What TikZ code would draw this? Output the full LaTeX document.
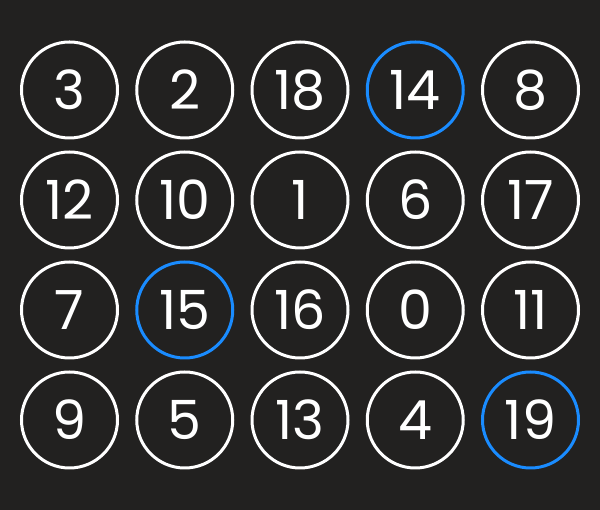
\documentclass[tikz,border=0pt]{standalone}
\usepackage{fontspec}
\setmainfont{Poppins}
\definecolor{board}{HTML}{222120}
\definecolor{pick}{HTML}{1A8CFF}
\tikzset{
	ball/.style={circle, draw=white, line width=3pt, minimum size=96pt, inner sep=0pt,
		text=white, font=\fontsize{54}{54}\selectfont}
}

\begin{document}
\begin{tikzpicture}[x=1pt, y=1pt]
		\def\dx{115.25};
		\def\dy{110};

		\fill[board] (0,0) rectangle (600,510);
		\useasboundingbox (0,0) rectangle (600,510);

		% grid of numbers, column / row from the top left
		\foreach \n/\c/\r in {3/0/0, 2/1/0, 18/2/0, 8/4/0,
			12/0/1, 10/1/1, 1/2/1, 6/3/1, 17/4/1,
			7/0/2, 16/2/2, 0/3/2, 11/4/2,
			9/0/3, 5/1/3, 13/2/3, 4/3/3}
			\node[ball] (n\n) at (69.5+\c*\dx, 420-\r*\dy) {\n};

		\begin{scope}[ball/.append style={draw=pick}]
			\foreach \n/\c/\r in {14/3/0, 15/1/2, 19/4/3}
				\node[ball] (n\n) at (69.5+\c*\dx, 420-\r*\dy) {\n};
		\end{scope}
	\end{tikzpicture}
\end{document}
